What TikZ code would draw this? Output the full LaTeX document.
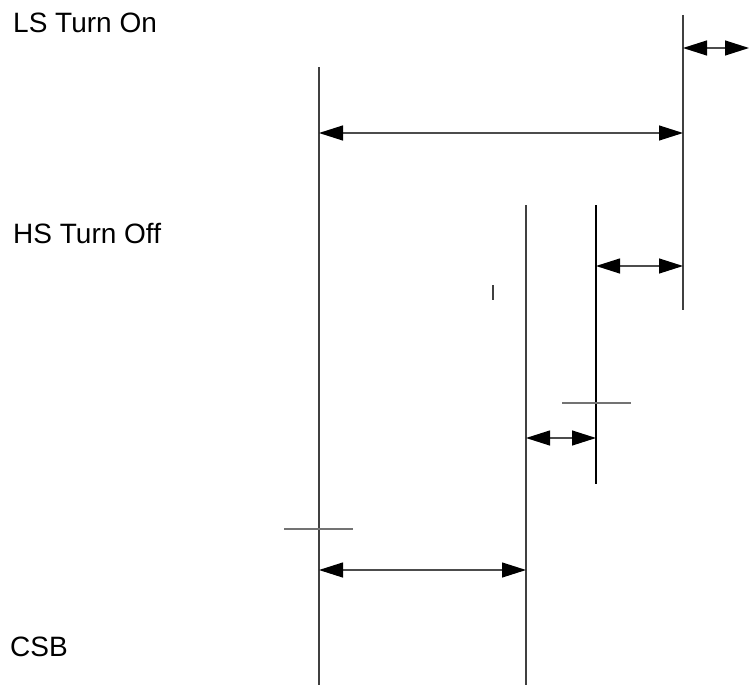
\documentclass[tikz,border=0pt]{standalone}
\usepackage{fontspec}
\setmainfont{Liberation Sans}
\usetikzlibrary{arrows.meta}
\begin{document}
\begin{tikzpicture}[x=1pt,y=-1pt,
  vline/.style={line width=1.2pt,draw=black!75},
  tline/.style={line width=1.2pt,draw=black!55},
  dim/.style={line width=1.2pt,draw=black!70,{Triangle[length=24pt,width=15pt,fill=black,color=black]}-{Triangle[length=24pt,width=15pt,fill=black,color=black]}},
  lbl/.style={anchor=base west,inner sep=0pt,font=\fontsize{28}{30}\selectfont}]
\useasboundingbox (0,0) rectangle (749,685);
% labels
\node[lbl] (ls) at (13,33) {LS Turn On};
\node[lbl] (hs) at (13,243) {HS Turn Off};
\node[lbl] (csb) at (10,656) {CSB};
% vertical lines
\coordinate (at) at (319,67);  \coordinate (ab) at (319,685);
\coordinate (bt) at (526,205); \coordinate (bb) at (526,685);
\coordinate (ct) at (596,205); \coordinate (cb) at (596,484);
\coordinate (dt) at (683,15);  \coordinate (db) at (683,310);
\draw[vline] (at) -- (ab);
\draw[vline] (bt) -- (bb);
\draw[vline,draw=black] (ct) -- (cb);
\draw[vline] (dt) -- (db);
% small tick
\coordinate (kt) at (493,285); \coordinate (kb) at (493,300);
\draw[vline] (kt) -- (kb);
% cross ticks
\coordinate (c1l) at (562,403); \coordinate (c1r) at (631,403);
\draw[tline] (c1l) -- (c1r);
\coordinate (c2l) at (284,529); \coordinate (c2r) at (353,529);
\draw[tline] (c2l) -- (c2r);
% dimension arrows
\coordinate (d1a) at (319,133); \coordinate (d1b) at (683,133);
\draw[dim] (d1a) -- (d1b);
\coordinate (d2a) at (683,48); \coordinate (d2b) at (749,48);
\draw[dim] (d2a) -- (d2b);
\coordinate (d3a) at (596,266); \coordinate (d3b) at (683,266);
\draw[dim] (d3a) -- (d3b);
\coordinate (d4a) at (526,438); \coordinate (d4b) at (596,438);
\draw[dim] (d4a) -- (d4b);
\coordinate (d5a) at (319,570); \coordinate (d5b) at (526,570);
\draw[dim] (d5a) -- (d5b);
\end{tikzpicture}
\end{document}
